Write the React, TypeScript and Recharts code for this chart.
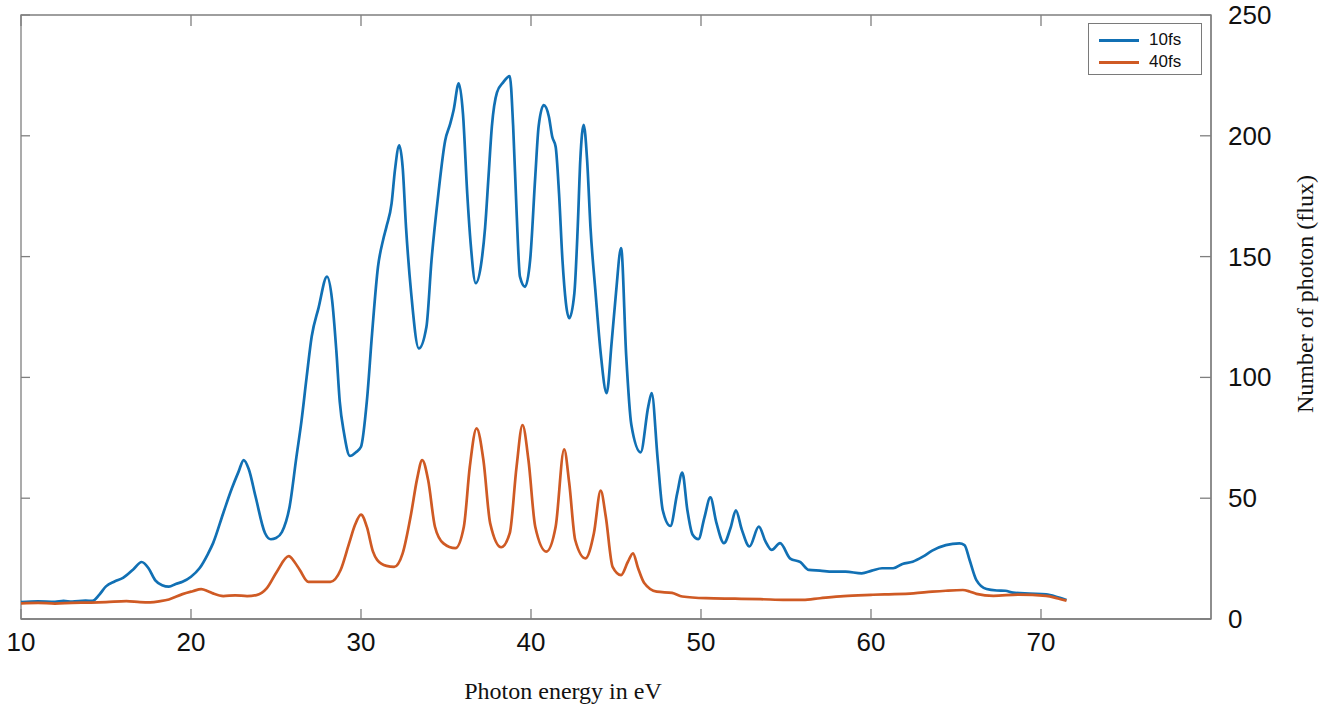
import { LineChart, Line, XAxis, YAxis, Legend, ReferenceArea } from "recharts"

// 10 fs pulse: photon energy (eV) and flux
const energy10 = [
  10, 11, 12, 12.5, 13, 13.8, 14.2, 14.6, 15, 15.5, 16, 16.6, 17.1, 17.5, 17.9, 18.3, 18.7, 19.1, 19.5, 20,
  20.5, 21, 21.3, 21.9, 22.4, 22.8, 23.1, 23.4, 23.8, 24.35, 24.7, 25, 25.35, 25.8, 26.2, 26.5, 26.8, 27.1,
  27.5, 28, 28.3, 28.55, 28.75, 29, 29.35, 29.7, 30, 30.35, 30.65, 31, 31.3, 31.5, 31.8, 32, 32.25, 32.45,
  32.65, 32.95, 33.4, 33.85, 34.15, 34.55, 34.95, 35.25, 35.45, 35.75, 36, 36.25, 36.45, 36.75, 37.1, 37.3,
  37.5, 37.7, 38, 38.35, 38.75, 38.95, 39.15, 39.35, 39.65, 39.95, 40.25, 40.45, 40.75, 41.05, 41.25, 41.45,
  41.65, 41.85, 42.25, 42.55, 42.75, 42.9, 43.1, 43.3, 43.5, 43.8, 44.1, 44.45, 44.75, 45, 45.3, 45.6, 45.9,
  46.45, 46.9, 47.1, 47.45, 47.75, 48.2, 48.6, 48.9, 49.2, 49.5, 49.85, 50.2, 50.55, 50.9, 51.35, 51.75,
  52.05, 52.4, 52.85, 53.4, 53.8, 54.15, 54.65, 55.25, 55.85, 56.35, 57, 57.75, 58.5, 59.45, 60.05, 60.65,
  61.3, 61.85, 62.45, 63.05, 63.6, 64.4, 65.2, 65.5, 65.8, 66.2, 66.8, 67.4, 67.9, 68.35, 69.3, 70.3, 71, 71.5,
]
const flux10 = [
  7, 7.3, 7.1, 7.5, 7.2, 7.6, 7.5, 10, 13.5, 15.5, 17, 20.5, 23.6, 21, 16, 14, 13.4, 14.5, 15.4, 17.5,
  21, 27, 31.4, 43.9, 54, 61, 65.8, 62, 50.6, 35.6, 33, 33.5, 36, 46.5, 67, 82, 100, 116.9,
  128.7, 141.7, 132, 111, 90, 77, 67.5, 69, 71.3, 90.6, 118, 145.8, 156.9, 162.4, 172, 186, 196, 187,
  162, 135, 112, 121, 148.6, 176, 198, 205, 210.7, 221.7, 209, 176, 155.5, 139, 148.6, 162,
  183, 204, 218, 222, 224.7, 204, 169, 141.7, 137.5, 148.6, 183, 204, 212.7, 208, 199.6, 195.5,
  176, 148.6, 124.5, 134.8, 162.4, 190, 204.5, 190, 162, 134.8, 110, 93.5, 115, 135, 153.5, 109, 80.5,
  69, 88, 93.5, 66.3, 45, 38.5, 52, 60.6, 45, 35, 33.1, 42, 50.3, 40, 31.4, 38,
  45, 37, 30, 38.2, 32, 28.6, 31.4, 25, 23.5, 20.3, 20, 19.6, 19.6, 18.9, 20, 21,
  21, 22.8, 23.7, 25.8, 28.3, 30.6, 31.3, 30.6, 24.4, 16.1, 12.4, 11.8, 11.7, 10.9, 10.5, 10.2, 9, 7.9,
]

// 40 fs pulse
const energy40 = [
  10, 11, 12, 13, 14, 15, 16.2, 17, 17.6, 18.2, 18.7, 19.5, 20.1, 20.6, 21, 21.3, 21.9, 22.6, 23.3, 23.85,
  24.45, 25.05, 25.75, 26.1, 26.4, 26.9, 27.5, 28.2, 28.8, 29.3, 29.65, 30, 30.35, 30.7, 30.95, 31.5, 31.95,
  32.45, 32.95, 33.3, 33.6, 33.95, 34.35, 34.85, 35.55, 36.05, 36.4, 36.8, 37.2, 37.6, 38.25, 38.75, 39.15,
  39.5, 39.85, 40.25, 40.9, 41.45, 41.95, 42.25, 42.6, 43.2, 43.7, 44.1, 44.4, 44.8, 45.3, 45.7, 46, 46.3,
  46.65, 47.4, 48.3, 48.9, 50.3, 52, 53.5, 55, 56, 57, 58.4, 60, 60.8, 62.5, 63.6, 64.4, 65.4, 65.8, 66.2,
  67.2, 68.7, 70.3, 71, 71.5,
]
const flux40 = [
  6.5, 6.7, 6.4, 6.7, 6.8, 7, 7.4, 7, 6.9, 7.4, 8.1, 10.3, 11.5, 12.4, 11.5, 10.6, 9.5, 9.8, 9.5, 9.9,
  12.7, 19.6, 26, 23.5, 20.3, 15.4, 15.4, 15.4, 20.3, 31.3, 39, 43.2, 38, 28, 24.5, 22, 21.6,
  27.2, 43.7, 58, 65.8, 57.5, 38.2, 31.3, 29.3, 38.2, 63, 78.9, 65.8, 39.6, 29.7, 35.5, 63,
  80.3, 65.8, 38.2, 27.9, 38.2, 70.2, 56.2, 32.7, 25.1, 35.5, 53.1, 42.3, 21.6, 18.2, 23.7, 27.2, 21,
  15, 11.3, 10.8, 9.3, 8.6, 8.4, 8.2, 7.9, 7.9, 8.6, 9.5, 10, 10.2, 10.6, 11.3, 11.7, 12, 11.4, 10.4,
  9.6, 10.1, 9.6, 8.5, 7.6,
]

const energyTicks = [10, 20, 30, 40, 50, 60, 70]
const fluxTicks = [0, 50, 100, 150, 200, 250]

const data10 = energy10.map((e, i) => ({ energy: e, flux: flux10[i] }))
const data40 = energy40.map((e, i) => ({ energy: e, flux: flux40[i] }))

const AXIS = "#7f7f7f"
const SANS = "'Liberation Sans', Arial, sans-serif"
const SERIF = "'Liberation Serif', 'Times New Roman', serif"
const PLOT_LEFT = 21
const PLOT_TOP = 15

function EnergyTick({ x, y, payload }: any) {
  return (
    <g>
      <line x1={x} y1={y} x2={x} y2={y - 10} stroke={AXIS} strokeWidth={1.3} />
      <line x1={x} y1={PLOT_TOP} x2={x} y2={PLOT_TOP + 11} stroke={AXIS} strokeWidth={1.3} />
      <text x={x} y={y + 32} textAnchor="middle" fontFamily={SANS} fontSize={26} fill="#111">
        {payload.value}
      </text>
    </g>
  )
}

function FluxTick({ x, y, payload }: any) {
  return (
    <g>
      <line x1={x - 11} y1={y} x2={x} y2={y} stroke={AXIS} strokeWidth={1.3} />
      <line x1={PLOT_LEFT} y1={y} x2={PLOT_LEFT + 9} y2={y} stroke={AXIS} strokeWidth={1.3} />
      <text x={x + 17} y={y + 9} textAnchor="start" fontFamily={SANS} fontSize={26} fill="#111">
        {payload.value}
      </text>
    </g>
  )
}

function XTitle() {
  return (
    <text x={563} y={699} textAnchor="middle" fontFamily={SERIF} fontSize={24} fill="#111">
      Photon energy in eV
    </text>
  )
}

function YTitle() {
  return (
    <text
      x={1305}
      y={294}
      transform="rotate(-90 1305 294)"
      textAnchor="middle"
      dominantBaseline="central"
      fontFamily={SERIF}
      fontSize={24}
      fill="#111"
    >
      Number of photon (flux)
    </text>
  )
}

function LegendBox({ payload }: any) {
  return (
    <div
      style={{
        width: 114,
        height: 52,
        border: "1px solid #7a7a7a",
        background: "#fff",
        paddingTop: 5,
        boxSizing: "border-box",
      }}
    >
      {(payload || []).map((item: any) => (
        <div key={item.value} style={{ display: "flex", alignItems: "center", height: 22 }}>
          <span
            style={{ display: "inline-block", width: 40, height: 3, background: item.color, marginLeft: 10, marginRight: 10 }}
          />
          <span style={{ fontFamily: SANS, fontSize: 17, color: "#111" }}>{item.value}</span>
        </div>
      ))}
    </div>
  )
}

export default function App() {
  return (
    <div style={{ position: "absolute", left: 0, top: 0, width: 1334, height: 713, background: "#fff" }}>
      <LineChart width={1334} height={713} margin={{ top: PLOT_TOP, right: 0, bottom: 0, left: PLOT_LEFT }}>
        <ReferenceArea x1={10} x2={80} y1={0} y2={250} fill="none" stroke={AXIS} strokeWidth={1.3} />
        <XAxis
          dataKey="energy"
          type="number"
          domain={[10, 80]}
          ticks={energyTicks}
          interval={0}
          height={94}
          axisLine={{ stroke: AXIS, strokeWidth: 1.3 }}
          tickLine={false}
          tickSize={0}
          tickMargin={0}
          tick={<EnergyTick />}
          label={<XTitle />}
          allowDataOverflow
        />
        <YAxis
          orientation="right"
          type="number"
          domain={[0, 250]}
          ticks={fluxTicks}
          interval={0}
          width={123}
          axisLine={{ stroke: AXIS, strokeWidth: 1.3 }}
          tickLine={false}
          tickSize={0}
          tickMargin={0}
          tick={<FluxTick />}
          label={<YTitle />}
          allowDataOverflow
        />
        <Legend
          layout="vertical"
          align="center"
          verticalAlign="middle"
          content={<LegendBox />}
          wrapperStyle={{ left: 1088, top: 23, width: 114, height: 52 }}
        />
        <Line
          data={data10}
          dataKey="flux"
          name="10fs"
          type="monotone"
          stroke="#1170b4"
          strokeWidth={2.7}
          dot={false}
          activeDot={false}
          isAnimationActive={false}
        />
        <Line
          data={data40}
          dataKey="flux"
          name="40fs"
          type="monotone"
          stroke="#cf5a24"
          strokeWidth={2.7}
          dot={false}
          activeDot={false}
          isAnimationActive={false}
        />
      </LineChart>
    </div>
  )
}
